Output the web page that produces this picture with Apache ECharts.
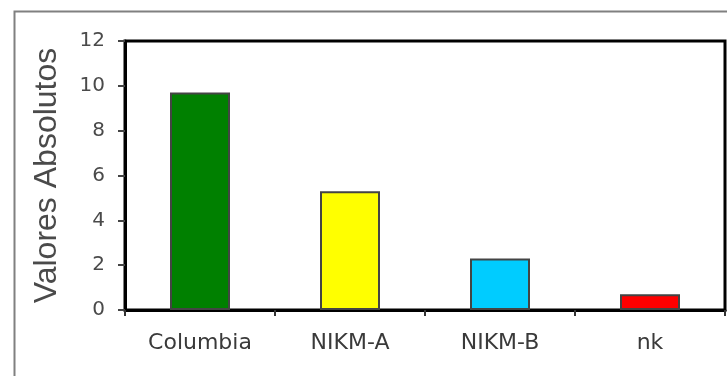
<!DOCTYPE html>
<html>
<head>
<meta charset="utf-8">
<script src="https://cdn.jsdelivr.net/npm/echarts@6/dist/echarts.min.js"></script>
<style>
  html, body { margin: 0; padding: 0; background: #fff; }
  #chart { width: 727px; height: 376px; }
</style>
</head>
<body>
<div id="chart"></div>
<script>
// Categories and absolute values per sample
const categories = ['Columbia', 'NIKM-A', 'NIKM-B', 'nk'];
const values = [9.7, 5.3, 2.3, 0.7];
const barColors = ['#008000', '#ffff00', '#00ccff', '#ff0000'];
const yTicks = [0, 2, 4, 6, 8, 10, 12];

const chart = echarts.init(document.getElementById('chart'), null, { renderer: 'canvas' });

chart.setOption({
  backgroundColor: '#ffffff',
  animation: false,
  graphic: [{
    // outer frame around the whole chart
    type: 'rect',
    left: 12, top: 9,
    shape: { width: 740, height: 400 },
    style: { fill: 'none', stroke: '#808080', lineWidth: 2 },
    z: 0
  }],
  grid: {
    left: 125, top: 41, right: 2, bottom: 66,
    show: true,
    borderColor: '#000',
    borderWidth: 3,
    backgroundColor: '#fff'
  },
  xAxis: {
    type: 'category',
    data: categories,
    axisLine: { lineStyle: { color: '#000', width: 3 } },
    axisTick: { show: true, length: 6, lineStyle: { color: '#333', width: 2 } },
    axisLabel: {
      color: '#3a3a3a',
      fontFamily: 'DejaVu Sans',
      fontSize: 22,
      margin: 22
    }
  },
  yAxis: {
    type: 'value',
    min: yTicks[0],
    max: yTicks[yTicks.length - 1],
    interval: 2,
    name: 'Valores Absolutos',
    nameLocation: 'middle',
    nameGap: 62,
    nameTextStyle: {
      color: '#4a4a4a',
      fontFamily: 'Liberation Sans',
      fontSize: 32
    },
    splitLine: { show: false },
    axisLine: { show: true, lineStyle: { color: '#000', width: 3 } },
    axisTick: { show: true, length: 7, lineStyle: { color: '#444', width: 2 } },
    axisLabel: {
      color: '#4a4a4a',
      fontFamily: 'DejaVu Sans',
      fontSize: 20,
      margin: 20
    }
  },
  series: [{
    type: 'bar',
    barWidth: '40%',
    data: values.map((v, i) => ({
      value: v,
      itemStyle: { color: barColors[i], borderColor: '#444', borderWidth: 2 }
    }))
  }]
});
</script>
</body>
</html>
